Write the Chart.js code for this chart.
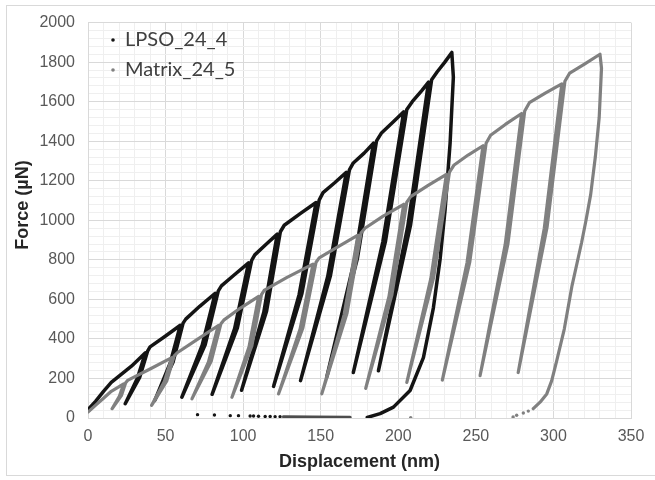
<!DOCTYPE html>
<html>
<head>
<meta charset="utf-8">
<script src="https://cdn.jsdelivr.net/npm/chart.js@4.4.1/dist/chart.umd.min.js"></script>
<style>
  html, body { margin: 0; padding: 0; background: #fff; }
  canvas { display: block; }
</style>
</head>
<body>
<canvas id="forceChart" width="655" height="480"></canvas>
<script>
// [displacement nm, force µN] in recorded order: load, partial unload, reload ... final unload
const lpsoCurve = [
  [0, 42], [5, 85], [10, 135], [15, 180], [20, 212], [28, 262],
  [37, 330], [31.8, 201], [24, 72], [33.3, 205], [38.5, 340], [40, 360], [50, 415],
  [59.5, 469], [53, 278], [43, 88], [54.8, 282], [61.3, 480], [63, 500], [72, 565],
  [82, 631], [73.6, 368], [60.5, 105], [75.6, 372], [84, 643], [86, 668], [94, 722],
  [103.5, 785], [94.5, 452], [80, 120], [96.3, 456], [105.5, 797], [107.5, 825], [115, 880],
  [122, 930], [113.3, 535], [99, 140], [115.1, 540], [124, 942], [126.5, 975], [137, 1035],
  [147, 1090], [136.1, 625], [119.6, 160], [137.9, 630], [149, 1102], [151.5, 1140], [159, 1190],
  [166.5, 1243], [154.5, 716], [137, 189], [156.3, 721], [168.5, 1255], [171, 1290], [178, 1340],
  [184, 1390], [171.8, 800], [154, 210], [173.6, 805], [186, 1402], [189, 1440], [197, 1500],
  [203.5, 1549], [190, 890], [171, 230], [191.8, 895], [205.5, 1561], [209, 1600], [215, 1655],
  [219.5, 1699], [206.1, 969], [187.2, 239], [207.9, 975], [221.5, 1711], [225, 1750], [230, 1800],
  [234.5, 1849], [235.5, 1724], [233.4, 1390], [230.2, 1056], [227, 806], [222.6, 556],
  [216.2, 305], [207.6, 139], [196.9, 55], [188.3, 22], [180, 3]
];

const matrixCurve = [
  [0, 30], [5, 65], [10, 100], [15, 135],
  [23, 172], [20.2, 110], [15.5, 47], [21.5, 113], [24.3, 178], [25.5, 190], [40, 248],
  [54, 305], [49.2, 185], [41, 64], [50.8, 188], [55.5, 313], [57.5, 330], [70, 395],
  [84, 468], [77.6, 283], [67, 97], [79.4, 287], [85.7, 477], [87.5, 495], [98, 555],
  [110, 615], [103.8, 360], [92.8, 105], [105.6, 364], [111.8, 624], [113.5, 645], [128, 710],
  [145, 778], [136.7, 450], [122.8, 122], [138.5, 455], [147, 788], [149, 810], [161, 865],
  [174, 925], [165.1, 523], [150.7, 122], [166.9, 528], [176, 936], [178.5, 960], [190, 1020],
  [203.5, 1081], [194, 615], [179, 150], [195.8, 620], [205.5, 1092], [208, 1120], [219, 1175],
  [231, 1232], [221, 706], [205.5, 180], [222.8, 711], [233, 1244], [236, 1280], [245, 1330],
  [254.6, 1377], [244.3, 785], [228.4, 192], [246.1, 790], [256.6, 1390], [259.5, 1430], [269, 1485],
  [279.5, 1540], [268.9, 877], [252.7, 214], [270.7, 882], [281.5, 1553], [284.5, 1595], [295, 1645],
  [305.4, 1690], [294.1, 960], [277.3, 230], [295.9, 965], [307.4, 1703], [310.5, 1745], [320, 1790],
  [330, 1840], [331, 1770], [329.5, 1520], [327, 1320], [324, 1130], [321, 1000], [318.2, 889],
  [312, 670], [307, 450], [302.1, 289], [298.9, 189], [295.7, 122], [291.4, 80], [287, 47]
];

// sparse points near zero load after unloading
const lpsoLiftoff = [
  [70.6, 17], [81.5, 15], [91.7, 12], [97, 12], [104.5, 10], [106.7, 10],
  [109.9, 9], [114.2, 8], [117.4, 8], [120.6, 7], [123.8, 7]
];
const liftoffBand = [[126, 6], [145, 5], [169, 4]];
const matrixLiftoff = [[283.8, 35], [280.6, 25], [276.3, 14], [274, 5], [208, 2]];

const seriesNames = ["LPSO_24_4", "Matrix_24_5"];
const seriesColors = ["#141414", "#808080"];

const xTicks = { min: 0, max: 350, major: 50, minor: 10 };
const yTicks = { min: 0, max: 2000, major: 200, minor: 40 };

function toPoints(pairs) {
  return pairs.map(([x, y]) => ({ x, y }));
}

function curveDataset(label, pairs, color, width, order) {
  return {
    label,
    data: toPoints(pairs),
    showLine: true,
    borderColor: color,
    backgroundColor: color,
    borderWidth: width,
    borderJoinStyle: "round",
    borderCapStyle: "round",
    pointRadius: 0,
    tension: 0,
    order
  };
}

function dotDataset(pairs, color, order) {
  return {
    data: toPoints(pairs),
    showLine: false,
    pointRadius: 1.7,
    pointBorderWidth: 0,
    pointBackgroundColor: color,
    order
  };
}

const gridColor = (step) => (ctx) =>
  ctx.tick && Math.round(ctx.tick.value) % step === 0 ? "#d9d9d9" : "#efefef";

const tickFont = { family: "'Liberation Sans', Arial, sans-serif", size: 16 };

// y title, legend and chart frame
const chartDecor = {
  id: "chartDecor",
  afterDraw(chart) {
    const { ctx } = chart;
    ctx.save();

    ctx.strokeStyle = "#d9d9d9";
    ctx.lineWidth = 1;
    ctx.strokeRect(6.5, 5.5, 660, 470);

    ctx.save();
    ctx.translate(23, 205);
    ctx.rotate(-Math.PI / 2);
    ctx.font = "bold 18px 'Liberation Sans', Arial, sans-serif";
    ctx.fillStyle = "#262626";
    ctx.textAlign = "center";
    ctx.textBaseline = "middle";
    ctx.fillText("Force (µN)", 0, 0);
    ctx.restore();

    ctx.font = "20px Lato, 'Open Sans', sans-serif";
    ctx.textAlign = "left";
    ctx.textBaseline = "middle";
    seriesNames.forEach((name, i) => {
      const y = 40 + i * 30;
      ctx.fillStyle = seriesColors[i];
      ctx.beginPath();
      ctx.arc(113, y, 1.8, 0, Math.PI * 2);
      ctx.fill();
      ctx.fillStyle = "#404040";
      ctx.fillText(name, 125, y);
    });

    ctx.restore();
  }
};

new Chart(document.getElementById("forceChart"), {
  type: "scatter",
  data: {
    datasets: [
      curveDataset(seriesNames[0], lpsoCurve, seriesColors[0], 3.5, 3),
      curveDataset(seriesNames[1], matrixCurve, seriesColors[1], 3.2, 2),
      dotDataset(lpsoLiftoff, seriesColors[0], 1),
      curveDataset("", liftoffBand, "#4d4d4d", 3, 1),
      dotDataset(matrixLiftoff, seriesColors[1], 1)
    ]
  },
  options: {
    responsive: false,
    animation: false,
    devicePixelRatio: 1,
    layout: { padding: { top: 18, right: 24, left: 0, bottom: 0 } },
    plugins: {
      legend: { display: false },
      tooltip: { enabled: false }
    },
    scales: {
      x: {
        type: "linear",
        min: xTicks.min,
        max: xTicks.max,
        afterFit: (scale) => { scale.height = 62; },
        ticks: {
          stepSize: xTicks.minor,
          autoSkip: false,
          maxRotation: 0,
          padding: 9,
          color: "#595959",
          font: tickFont,
          callback: (v) => (Math.round(v) % xTicks.major === 0 ? String(Math.round(v)) : "")
        },
        grid: { drawTicks: false, color: gridColor(xTicks.major) },
        border: { color: "#d9d9d9" },
        title: {
          display: true,
          text: "Displacement (nm)",
          color: "#262626",
          font: { family: "'Liberation Sans', Arial, sans-serif", size: 18, weight: "bold" },
          padding: { top: 0, bottom: 7 }
        }
      },
      y: {
        type: "linear",
        min: yTicks.min,
        max: yTicks.max,
        afterFit: (scale) => { scale.width = 88; },
        ticks: {
          stepSize: yTicks.minor,
          autoSkip: false,
          padding: 13,
          color: "#595959",
          font: tickFont,
          callback: (v) => (Math.round(v) % yTicks.major === 0 ? String(Math.round(v)) : "")
        },
        grid: { drawTicks: false, color: gridColor(yTicks.major) },
        border: { color: "#d9d9d9" }
      }
    }
  },
  plugins: [chartDecor]
});
</script>
</body>
</html>
